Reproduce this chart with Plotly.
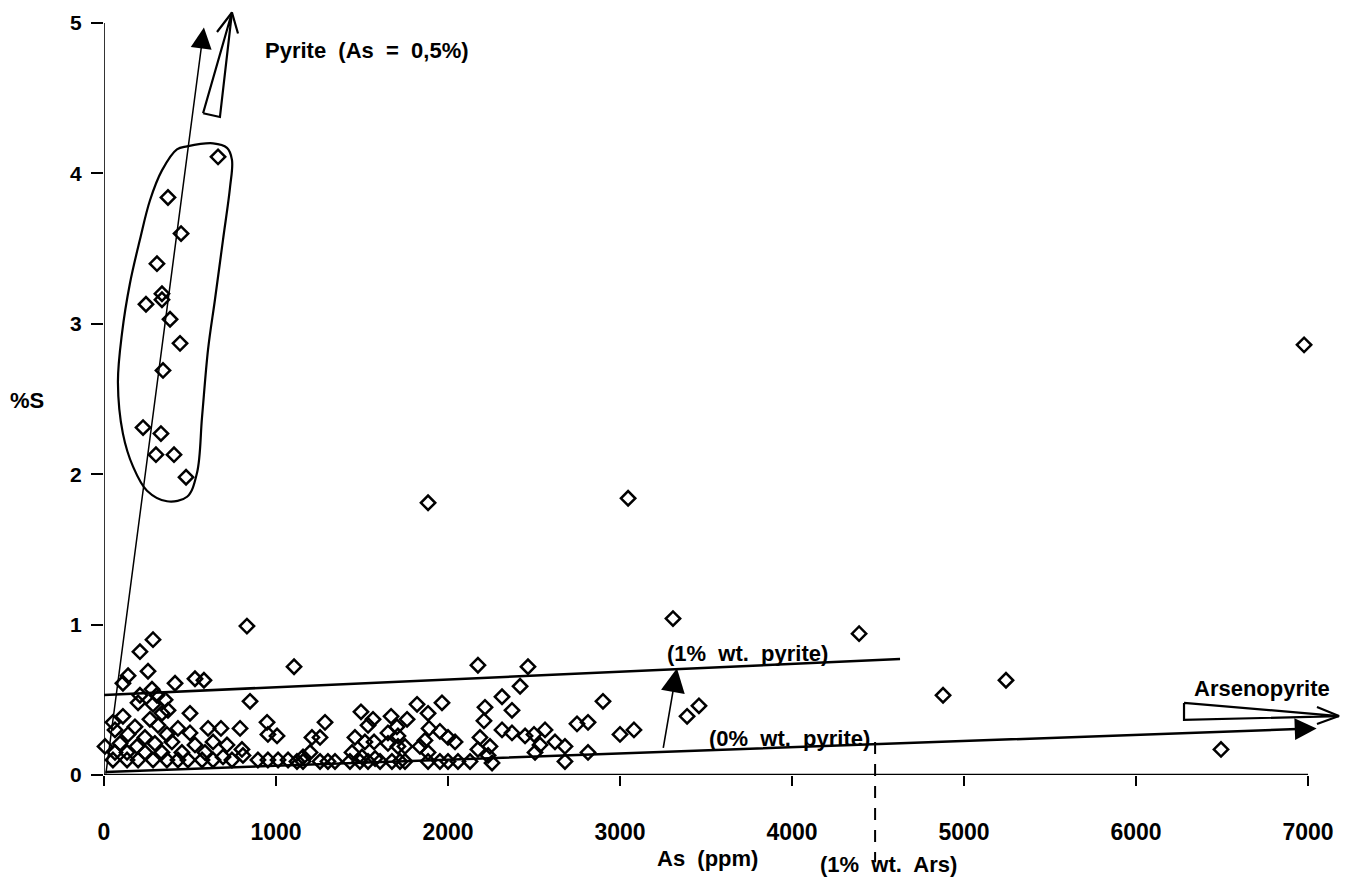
import plotly.graph_objects as go

# ---------------- data (As in ppm, S in %) ----------------
cluster_as = [663, 372, 448, 308, 337, 337, 244, 384, 442, 343, 227, 331, 302, 407, 477]
cluster_s = [4.11, 3.84, 3.60, 3.40, 3.20, 3.16, 3.13, 3.03, 2.87, 2.69, 2.31, 2.27, 2.13, 2.13, 1.98]

outlier_as = [1884, 3047, 6977, 3308, 4390, 4878, 5244, 6494, 831, 3390, 3459]
outlier_s = [1.81, 1.84, 2.86, 1.04, 0.94, 0.53, 0.63, 0.17, 0.99, 0.39, 0.46]

low1_as = [285, 209, 256, 140, 110, 413, 529, 581, 1105, 849, 279, 209, 308, 355, 198, 285,
           372, 500, 110, 337, 267, 52, 314, 180, 64, 430, 605, 680, 791, 948, 953, 1006,
           500, 140, 238, 366, 6, 93, 192, 296, 395, 529, 634, 715, 802, 808, 64, 134, 238,
           337, 453, 587, 692,
           52, 134, 198, 285, 366, 430, 488, 570, 634, 744, 895, 953, 1012, 1070]
low1_s = [0.90, 0.82, 0.69, 0.66, 0.61, 0.61, 0.64, 0.63, 0.72, 0.49, 0.57, 0.53, 0.53, 0.50, 0.48, 0.47,
          0.43, 0.41, 0.39, 0.41, 0.37, 0.35, 0.33, 0.32, 0.30, 0.31, 0.31, 0.31, 0.31, 0.35, 0.27, 0.26,
          0.28, 0.27, 0.25, 0.27, 0.19, 0.21, 0.19, 0.21, 0.22, 0.20, 0.22, 0.20, 0.17, 0.13, 0.15, 0.15, 0.15,
          0.15, 0.15, 0.15, 0.12,
          0.10, 0.10, 0.10, 0.10, 0.10, 0.10, 0.10, 0.10, 0.10, 0.10, 0.10, 0.10, 0.10, 0.10]

low2_as = [2174, 1494, 1564, 1535, 1285, 1209, 1256, 1669, 1762, 1703, 1820, 1884, 1965, 1890,
           1953, 2000, 2041, 1459, 1517, 1570, 1651, 1709, 1651, 1709, 1750, 1837, 1866, 1884,
           1442, 1500, 1576, 1198, 1157,
           1122, 1157, 1256, 1302, 1343, 1430, 1488, 1535, 1605, 1674, 1721, 1750, 1884, 1953,
           2000, 2058, 2128]
low2_s = [0.73, 0.42, 0.37, 0.33, 0.35, 0.25, 0.25, 0.39, 0.37, 0.32, 0.47, 0.41, 0.48, 0.31,
          0.29, 0.25, 0.22, 0.25, 0.22, 0.22, 0.28, 0.26, 0.21, 0.19, 0.19, 0.19, 0.23, 0.15,
          0.15, 0.12, 0.11, 0.15, 0.12,
          0.09, 0.09, 0.09, 0.09, 0.09, 0.09, 0.09, 0.09, 0.09, 0.09, 0.09, 0.09, 0.09, 0.09,
          0.09, 0.09, 0.09]

low3_as = [2465, 2419, 2314, 2215, 2372, 2209, 2901, 2750, 2814, 3000, 3081, 2314, 2372, 2448,
           2500, 2564, 2186, 2244, 2622, 2680, 2535, 2506, 2174, 2233, 2814, 2680, 2256]
low3_s = [0.72, 0.59, 0.52, 0.45, 0.43, 0.36, 0.49, 0.34, 0.35, 0.27, 0.30, 0.30, 0.28, 0.26,
          0.27, 0.30, 0.25, 0.19, 0.22, 0.19, 0.20, 0.15, 0.17, 0.13, 0.15, 0.09, 0.08]

as_ppm = cluster_as + outlier_as + low1_as + low2_as + low3_as
s_pct = cluster_s + outlier_s + low1_s + low2_s + low3_s

x_ticks = [0, 1000, 2000, 3000, 4000, 5000, 6000, 7000]
y_ticks = [0, 1, 2, 3, 4, 5]

# ---------------- annotation geometry (data units) ----------------
X_RANGE = [0, 7244]
Y_RANGE = [0, 5.153]

pyrite_line = dict(tail=(10, 0.0), head=(581, 4.97))
zero_line = dict(tail=(0, 0.02), head=(7050, 0.31))
shift_arrow = dict(tail=(3250, 0.17), head=(3331, 0.71))
one_pct_line_x = [0, 4628]
one_pct_line_y = [0.532, 0.771]

pyr_wedge_x = [576, 674, 744, 576]
pyr_wedge_y = [4.40, 4.375, 5.07, 4.40]
pyr_chev_x = [657, 744, 779]
pyr_chev_y = [4.94, 5.07, 4.93]

ars_wedge_x = [6279, 6279, 7180, 6279]
ars_wedge_y = [0.479, 0.366, 0.392, 0.479]
ars_chev_x = [7052, 7180, 7052]
ars_chev_y = [0.452, 0.392, 0.339]

ellipse_x = [483, 634, 715, 744, 733, 692, 645, 605, 570, 541, 483, 366, 250, 169, 110, 81,
             105, 151, 209, 267, 337, 424, 483]
ellipse_y = [4.18, 4.20, 4.17, 4.09, 3.91, 3.56, 3.16, 2.83, 2.38, 2.01, 1.85, 1.82, 1.89, 2.05,
             2.27, 2.61, 2.94, 3.27, 3.56, 3.82, 4.02, 4.16, 4.18]

ars_limit_x = 4483
ars_limit_y = [0.22, -0.58]

FONT = "Liberation Sans, Arial, Helvetica, sans-serif"


def to_paper_x(v):
    return (v - X_RANGE[0]) / (X_RANGE[1] - X_RANGE[0])


def to_paper_y(v):
    return (v - Y_RANGE[0]) / (Y_RANGE[1] - Y_RANGE[0])


fig = go.Figure()

# closed curve round the pyrite cluster
fig.add_trace(go.Scatter(x=ellipse_x, y=ellipse_y, mode="lines",
                         line=dict(color="black", width=2.2, shape="spline", smoothing=1.0),
                         hoverinfo="skip", showlegend=False))
# 1% pyrite line
fig.add_trace(go.Scatter(x=one_pct_line_x, y=one_pct_line_y, mode="lines",
                         line=dict(color="black", width=2.5), hoverinfo="skip", showlegend=False))
# hollow wedges + open heads
for wx, wy in [(pyr_wedge_x, pyr_wedge_y), (pyr_chev_x, pyr_chev_y),
               (ars_wedge_x, ars_wedge_y), (ars_chev_x, ars_chev_y)]:
    fig.add_trace(go.Scatter(x=wx, y=wy, mode="lines",
                             line=dict(color="black", width=2.2), hoverinfo="skip", showlegend=False))

# data points
fig.add_trace(go.Scatter(x=as_ppm, y=s_pct, mode="markers",
                         marker=dict(symbol="diamond-open", size=11, color="black",
                                     line=dict(color="black", width=2.5)),
                         cliponaxis=False, showlegend=False))

# arrows
for arr, w, sz in [(pyrite_line, 1.5, 2.8), (zero_line, 2.5, 1.75), (shift_arrow, 1.6, 3.0)]:
    fig.add_annotation(x=arr["head"][0], y=arr["head"][1], ax=arr["tail"][0], ay=arr["tail"][1],
                       xref="x", yref="y", axref="x", ayref="y", text="", showarrow=True,
                       arrowhead=2, arrowsize=sz, arrowwidth=w, arrowcolor="black", standoff=0)

# axis lines
fig.add_shape(type="line", x0=0, y0=0, x1=7000, y1=0, xref="x", yref="y",
              line=dict(color="black", width=2.5))
fig.add_shape(type="line", x0=0, y0=0, x1=0, y1=5, xref="x", yref="y",
              line=dict(color="black", width=1.6))

# dashed 1% arsenopyrite limit (extends below the axis)
fig.add_shape(type="line", x0=ars_limit_x, x1=ars_limit_x,
              y0=to_paper_y(ars_limit_y[0]), y1=to_paper_y(ars_limit_y[1]),
              xref="x", yref="paper", line=dict(color="black", width=2, dash="12px,10px"))

# texts (positions in data units, placed via paper coordinates so they may sit outside the axes)
texts = [
    ("Pyrite\u00a0 (As\u00a0 =\u00a0 0,5%)", 924, 4.82),
    ("(1%\u00a0 wt.\u00a0 pyrite)", 3262, 0.805),
    ("(0%\u00a0 wt.\u00a0 pyrite)", 3506, 0.246),
    ("Arsenopyrite", 6326, 0.578),
    ("(1%\u00a0 wt.\u00a0 Ars)", 4151, -0.592),
    ("As\u00a0 (ppm)", 3203, -0.552),
    ("%S", -558, 2.49),
]
for t, tx, ty in texts:
    fig.add_annotation(x=to_paper_x(tx), y=to_paper_y(ty), xref="paper", yref="paper",
                       text=t, showarrow=False, xanchor="left", yanchor="middle",
                       font=dict(family=FONT, size=22, color="black", weight="bold"))

fig.update_layout(
    width=1350, height=895,
    margin=dict(l=104, r=0, t=0, b=120, pad=0),
    paper_bgcolor="white", plot_bgcolor="white",
    showlegend=False,
    xaxis=dict(range=X_RANGE, tickvals=x_ticks, ticktext=[str(v) for v in x_ticks],
               ticks="outside", ticklen=10, tickwidth=2, tickcolor="black",
               showline=False, showgrid=False, zeroline=False,
               tickfont=dict(family=FONT, size=23, color="black", weight="bold"),
               ticklabelstandoff=26),
    yaxis=dict(range=Y_RANGE, tickvals=y_ticks, ticktext=[str(v) for v in y_ticks],
               ticks="outside", ticklen=12, tickwidth=1.6, tickcolor="black",
               showline=False, showgrid=False, zeroline=False,
               tickfont=dict(family=FONT, size=21, color="black", weight="bold"),
               ticklabelstandoff=5),
)

fig.write_html("out.html")
